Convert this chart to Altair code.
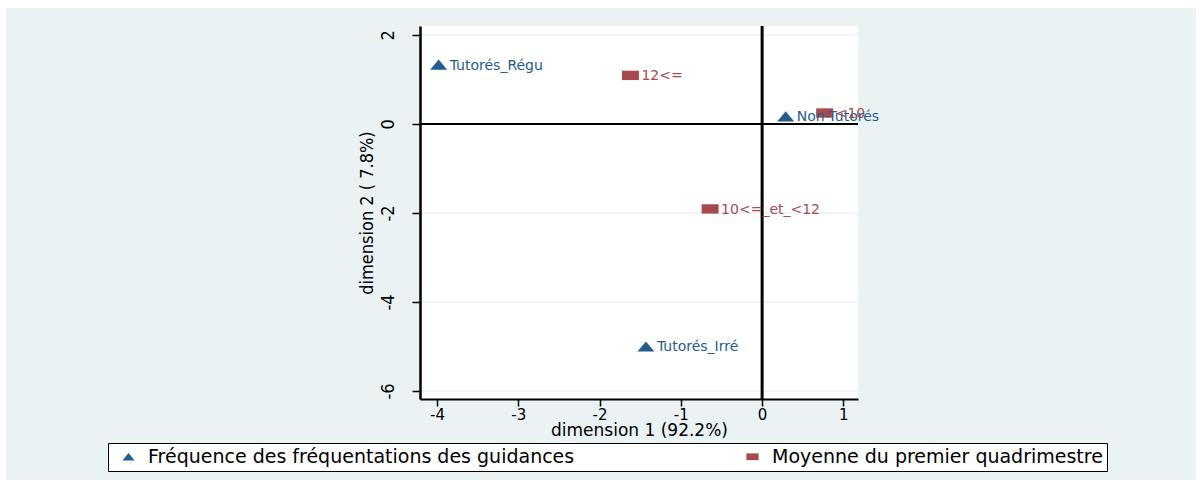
import altair as alt
import pandas as pd

# Row profile: how often the guidance sessions were attended
freq_labels = ["Tutorés_Régu", "Non-Tutorés", "Tutorés_Irré"]
freq_dim1 = [-3.98, 0.29, -1.43]
freq_dim2 = [1.33, 0.17, -5.00]

# Column profile: first-term average mark
moy_labels = ["12<=", "<10", "10<=_et_<12"]
moy_dim1 = [-1.62, 0.77, -0.64]
moy_dim2 = [1.09, 0.245, -1.91]

groups = ["Fréquence des fréquentations des guidances", "Moyenne du premier quadrimestre"]
group_colors = ["#245C8C", "#A84A4D"]
group_shapes = ["M-1,0.6L1,0.6L0,-0.6Z", "M-1,-0.55L1,-0.55L1,0.55L-1,0.55Z"]

x_ticks = [-4, -3, -2, -1, 0, 1]
y_ticks = [-6, -4, -2, 0, 2]

rows = []
for lab, a, b in zip(freq_labels, freq_dim1, freq_dim2):
    rows.append({"label": lab, "d1": a, "d2": b, "group": groups[0]})
for lab, a, b in zip(moy_labels, moy_dim1, moy_dim2):
    rows.append({"label": lab, "d1": a, "d2": b, "group": groups[1]})
points = pd.DataFrame(rows)

W, H = 438, 373
x_scale = alt.Scale(domain=[-4.21, 1.18], nice=False, zero=False)
y_scale = alt.Scale(domain=[-6.18, 2.2], nice=False, zero=False)

color_scale = alt.Scale(domain=groups, range=group_colors)
shape_scale = alt.Scale(domain=groups, range=group_shapes)

NARROW = "'Liberation Sans Narrow', 'DejaVu Sans Condensed', 'Roboto Condensed', 'Liberation Sans', sans-serif"

legend = alt.Legend(
    title=None,
    orient="none",
    legendX=-312,
    legendY=417,
    direction="horizontal",
    fillColor="white",
    strokeColor="black",
    padding=4,
    labelFont="DejaVu Sans",
    labelFontSize=19,
    labelColor="black",
    labelLimit=900,
    labelOffset=10,
    symbolSize=150,
    symbolOffset=7,
    symbolStrokeWidth=0,
    columnPadding=161,
)

x_axis = alt.Axis(
    values=x_ticks,
    format="d",
    labelExpr="replace(datum.label, '\u2212', '-')",
    title="dimension 1 (92.2%)",
    grid=False,
    zindex=1,
    domainColor="black",
    domainWidth=2,
    tickColor="black",
    tickWidth=1.5,
    tickSize=7,
    labelFont="DejaVu Sans",
    labelFontSize=15,
    labelColor="black",
    labelPadding=1,
    titleFont="DejaVu Sans",
    titleFontSize=17,
    titleFontWeight="normal",
    titleColor="black",
    titlePadding=0,
)
y_axis = alt.Axis(
    values=y_ticks,
    format="d",
    labelExpr="replace(datum.label, '\u2212', '-')",
    title="dimension 2 ( 7.8%)",
    grid=False,
    zindex=1,
    domainColor="black",
    domainWidth=2.5,
    tickColor="black",
    tickWidth=1.5,
    tickSize=8,
    labelAngle=270,
    labelFont=NARROW,
    labelFontSize=18,
    labelColor="black",
    labelPadding=15,
    titleFont=NARROW,
    titleFontSize=18,
    titleFontWeight="normal",
    titleColor="black",
    titlePadding=3,
)

one = pd.DataFrame({"v": [0]})

# grey-blue page area and white plot region
backdrop = alt.Chart(one).mark_rect(color="#EAF2F3").encode(
    x=alt.value(-414), x2=alt.value(776), y=alt.value(-18), y2=alt.value(454)
)
plot_bg = alt.Chart(one).mark_rect(color="white").encode(
    x=alt.value(0), x2=alt.value(W), y=alt.value(0), y2=alt.value(H)
)

grid = alt.Chart(pd.DataFrame({"d2": [t for t in y_ticks if t != 0]})).mark_rule(
    color="#EAF2F3", strokeWidth=1.5
).encode(y=alt.Y("d2:Q", scale=y_scale, axis=y_axis))

zero_x = alt.Chart(pd.DataFrame({"d1": [0]})).mark_rule(color="black", strokeWidth=3).encode(
    x=alt.X("d1:Q", scale=x_scale, axis=x_axis)
)
zero_y = alt.Chart(pd.DataFrame({"d2": [0]})).mark_rule(color="black", strokeWidth=2).encode(
    y=alt.Y("d2:Q", scale=y_scale, axis=y_axis)
)

base = alt.Chart(points)

marks = base.mark_point(filled=True, opacity=1, size=289, strokeWidth=0).encode(
    x=alt.X("d1:Q", scale=x_scale, axis=x_axis),
    y=alt.Y("d2:Q", scale=y_scale, axis=y_axis),
    color=alt.Color("group:N", scale=color_scale, legend=legend),
    shape=alt.Shape("group:N", scale=shape_scale, legend=legend),
)

labels = base.mark_text(
    align="left", baseline="middle", dx=11, dy=1, font="DejaVu Sans", fontSize=14
).encode(
    x=alt.X("d1:Q", scale=x_scale, axis=x_axis),
    y=alt.Y("d2:Q", scale=y_scale, axis=y_axis),
    text="label:N",
    color=alt.Color("group:N", scale=color_scale, legend=None),
)

chart = (
    alt.layer(backdrop, plot_bg, grid, zero_x, zero_y, marks, labels)
    .properties(
        width=W,
        height=H,
        padding={"left": 420, "top": 26, "right": 342, "bottom": 84},
        autosize=alt.AutoSizeParams(type="none"),
        background="white",
    )
    .configure_view(stroke="transparent")
)

chart.save("out.html", embed_options={"renderer": "svg", "actions": False})
